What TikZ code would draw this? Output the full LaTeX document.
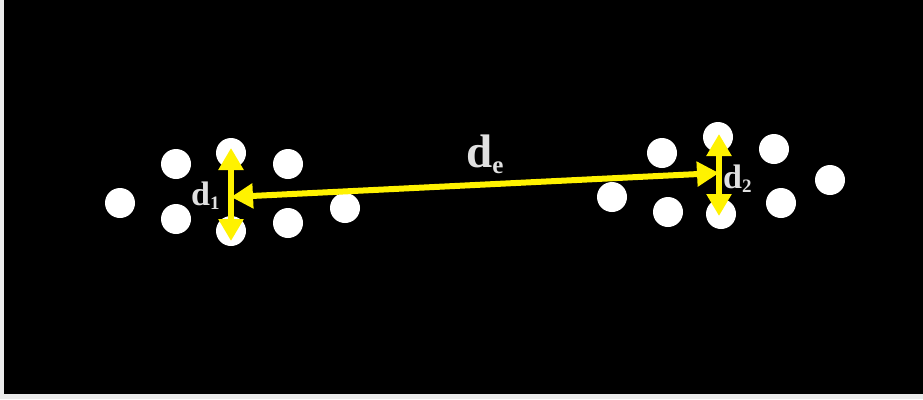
\documentclass[tikz,border=0pt]{standalone}
\usepackage{fontspec}
\setmainfont{Liberation Serif}
\usetikzlibrary{arrows.meta}
\pgfdeclareradialshading{glow}{\pgfpoint{0bp}{0bp}}{color(0bp)=(white); color(27bp)=(white); color(36bp)=(white!75!black); color(50bp)=(black); color(60bp)=(black)}
\newcommand{\dsub}[3]{\fontsize{#1}{#1}\selectfont\bfseries d\raisebox{-0.13em}{\fontsize{#2}{#2}\selectfont #3}}
\begin{document}
\begin{tikzpicture}[x=1pt,y=-1pt,
  dot/.style={circle,minimum size=30pt,inner sep=0pt,shading=glow},
  yarrow/.style={draw=yellow,line width=6pt,{Triangle[length=22pt,width=24pt]}-{Triangle[length=22pt,width=24pt]}},
  lab/.style={text=white!88!black,inner sep=0pt,anchor=base west}]
\useasboundingbox (0,0) rectangle (923,399);
\fill[white!92!black] (0,0) rectangle (923,399);
\fill[black] (4,0) rectangle (923,394);
% left cluster
\node[dot] (a1) at (120,203) {};
\node[dot] (a2) at (176,164) {};
\node[dot] (a3) at (176,219) {};
\node[dot] (a4) at (231,153) {};
\node[dot] (a5) at (231,231) {};
\node[dot] (a6) at (288,164) {};
\node[dot] (a7) at (288,223) {};
\node[dot] (a8) at (345,208) {};
% right cluster
\node[dot] (b1) at (612,197) {};
\node[dot] (b2) at (662,153) {};
\node[dot] (b3) at (668,212) {};
\node[dot] (b4) at (718,137) {};
\node[dot] (b5) at (721,214) {};
\node[dot] (b6) at (774,149) {};
\node[dot] (b7) at (781,203) {};
\node[dot] (b8) at (830,180) {};
% arrow end points
\coordinate (t1) at (231,148);
\coordinate (u1) at (231,241);
\coordinate (t2) at (719,134);
\coordinate (u2) at (719,216);
\coordinate (el) at (231,197);
\coordinate (er) at (719,173);
\draw[yarrow] (t1) -- (u1);
\draw[yarrow] (t2) -- (u2);
\draw[yarrow] (el) -- (er);
% labels
\node[lab] (l1) at (191,205) {\dsub{34}{19}{1}};
\node[lab] (l2) at (723,188) {\dsub{34}{19}{2}};
\node[lab] (le) at (466,167) {\dsub{47}{25}{e}};
\end{tikzpicture}
\end{document}
